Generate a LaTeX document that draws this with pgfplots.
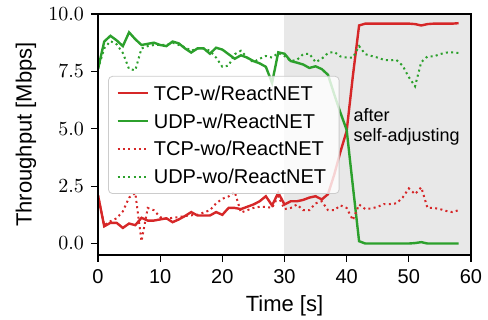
\documentclass[border=0pt]{standalone}
\usepackage{pgfplots}
\usepackage{pgfplotstable}
\pgfplotsset{compat=1.18}
\usepackage{fontspec}
\setmainfont{Liberation Sans}
\definecolor{tred}{HTML}{D62728}
\definecolor{tgreen}{HTML}{2CA02C}
\definecolor{band}{gray}{0.91}

\pgfplotstableread{
x y
0 2.1
1 0.75
2 0.9
3 0.9
4 0.68
5 0.87
6 0.8
7 1.12
8 1.0
9 1.0
10 1.05
11 1.1
12 0.93
13 1.05
14 1.2
15 1.37
16 1.22
17 1.22
18 1.22
19 1.37
20 1.25
21 1.55
22 1.55
23 1.5
24 1.6
25 1.7
26 1.84
27 2.06
28 1.66
29 2.21
30 1.7
31 1.84
32 1.84
33 1.9
34 2.0
35 2.06
36 1.92
37 2.15
38 3.0
39 4.0
40 4.9
41 7.3
42 9.5
43 9.58
44 9.58
45 9.58
46 9.58
47 9.58
48 9.58
49 9.58
50 9.58
51 9.56
52 9.5
53 9.56
54 9.58
55 9.58
56 9.58
57 9.58
58 9.6
}\tcpw

\pgfplotstableread{
x y
0 7.6
1 8.8
2 9.05
3 8.85
4 8.6
5 9.2
6 8.9
7 8.65
8 8.7
9 8.75
10 8.65
11 8.6
12 8.8
13 8.72
14 8.5
15 8.32
16 8.5
17 8.5
18 8.27
19 8.53
20 8.45
21 8.25
22 8.05
23 8.2
24 8.1
25 7.95
26 7.85
27 7.7
28 7.0
29 8.33
30 8.27
31 7.95
32 7.88
33 7.8
34 7.65
35 7.72
36 7.6
37 7.35
38 6.5
39 5.7
40 4.95
41 2.5
42 0.1
43 0.0
44 0.0
45 0.0
46 0.0
47 0.0
48 0.0
49 0.0
50 0.0
51 0.02
52 0.06
53 0.0
54 0.0
55 0.0
56 0.0
57 0.0
58 0.0
}\udpw

\pgfplotstableread{
x y
0 2.1
1 0.8
2 0.97
3 1.1
4 1.4
5 2.0
6 2.2
7 0.1
8 1.55
9 1.45
10 1.15
11 1.07
12 1.12
13 1.15
14 1.2
15 1.23
16 1.25
17 1.35
18 1.45
19 1.75
20 1.95
21 2.05
22 2.25
23 1.35
24 1.45
25 1.55
26 1.6
27 1.6
28 1.55
29 2.06
30 1.5
31 1.55
32 1.7
33 1.45
34 1.45
35 1.75
36 1.84
37 1.45
38 1.45
39 1.66
40 1.55
41 1.02
42 1.7
43 1.5
44 1.53
45 1.6
46 1.72
47 1.72
48 1.75
49 2.0
50 2.4
51 2.15
52 2.45
53 1.55
54 1.55
55 1.5
56 1.42
57 1.37
58 1.45
}\tcpwo

\pgfplotstableread{
x y
0 7.6
1 8.5
2 8.82
3 8.68
4 8.3
5 7.6
6 7.55
7 8.5
8 8.6
9 8.65
10 8.65
11 8.65
12 8.75
13 8.65
14 8.55
15 8.4
16 8.5
17 8.5
18 8.4
19 8.1
20 7.7
21 7.75
22 8.25
23 8.4
24 8.1
25 7.9
26 8.05
27 8.17
28 8.1
29 8.3
30 8.17
31 7.95
32 8.0
33 8.25
34 8.27
35 7.9
36 8.05
37 8.3
38 8.35
39 8.15
40 8.1
41 8.1
42 8.6
43 8.25
44 8.17
45 8.1
46 8.0
47 7.98
48 8.0
49 7.75
50 7.25
51 6.85
52 7.9
53 8.15
54 8.15
55 8.25
56 8.32
57 8.33
58 8.3
}\udpwo

\begin{document}
\begin{tikzpicture}
\begin{axis}[
  scale only axis, width=186.5pt, height=120.5pt,
  xmin=0, xmax=60, ymin=-0.5, ymax=10,
  xtick={0,10,20,30,40,50,60},
  xticklabels={0,10,20,30,40,50,60},
  ytick={0,2.5,5,7.5,10},
  yticklabel style={/pgf/number format/fixed, /pgf/number format/fixed zerofill, /pgf/number format/precision=1},
  tick align=outside, tick pos=left, major tick length=3.5pt,
  tick style={black, line width=0.6pt},
  axis line style={line width=0.6pt},
  tick label style={font=\fontsize{10}{12}\selectfont},
  xlabel={Time [s]}, ylabel={Throughput [Mbps]},
  every axis x label/.style={at={(axis description cs:0.5,0)}, anchor=base, yshift=-28.3pt, font=\fontsize{11}{13}\selectfont},
  every axis y label/.style={at={(axis description cs:-0.193,0.5)}, anchor=center, rotate=90, font=\fontsize{11}{13}\selectfont},
  axis on top,
  legend cell align=left,
  legend image code/.code={\draw[#1] (0pt,0pt) -- (15pt,0pt);},
  legend style={at={(axis description cs:0.027,0.743)}, anchor=north west,
    font=\fontsize{10}{12}\selectfont, fill=white, fill opacity=0.8, text opacity=1,
    draw=gray!40, rounded corners=2pt, inner xsep=4pt, inner ysep=2.2pt, row sep=1.4pt,
    nodes={inner sep=2.5pt, text height=7.3pt, text depth=0.2pt}},
]
\addplot[draw=none, fill=band, forget plot] coordinates {(30,-0.5) (60,-0.5) (60,10) (30,10)} -- cycle;
\addplot[tred, line width=1.2pt] table[x=x,y=y] {\tcpw};
\addlegendentry{TCP-w/ReactNET}
\addplot[tgreen, line width=1.2pt] table[x=x,y=y] {\udpw};
\addlegendentry{UDP-w/ReactNET}
\addplot[tred, line width=1pt, dash pattern=on 1pt off 1.65pt] table[x=x,y=y] {\tcpwo};
\addlegendentry{TCP-wo/ReactNET}
\addplot[tgreen, line width=1pt, dash pattern=on 1pt off 1.65pt] table[x=x,y=y] {\udpwo};
\addlegendentry{UDP-wo/ReactNET}
\node[anchor=north west, align=left, inner sep=0pt, font=\fontsize{9}{10.2}\selectfont] at (axis cs:41.07,5.92) {after\\self-adjusting};
\end{axis}
\pgfresetboundingbox
\path (current axis.south west) ++(-49pt,-32.5pt) rectangle ++(244pt,160pt);
\end{tikzpicture}
\end{document}
